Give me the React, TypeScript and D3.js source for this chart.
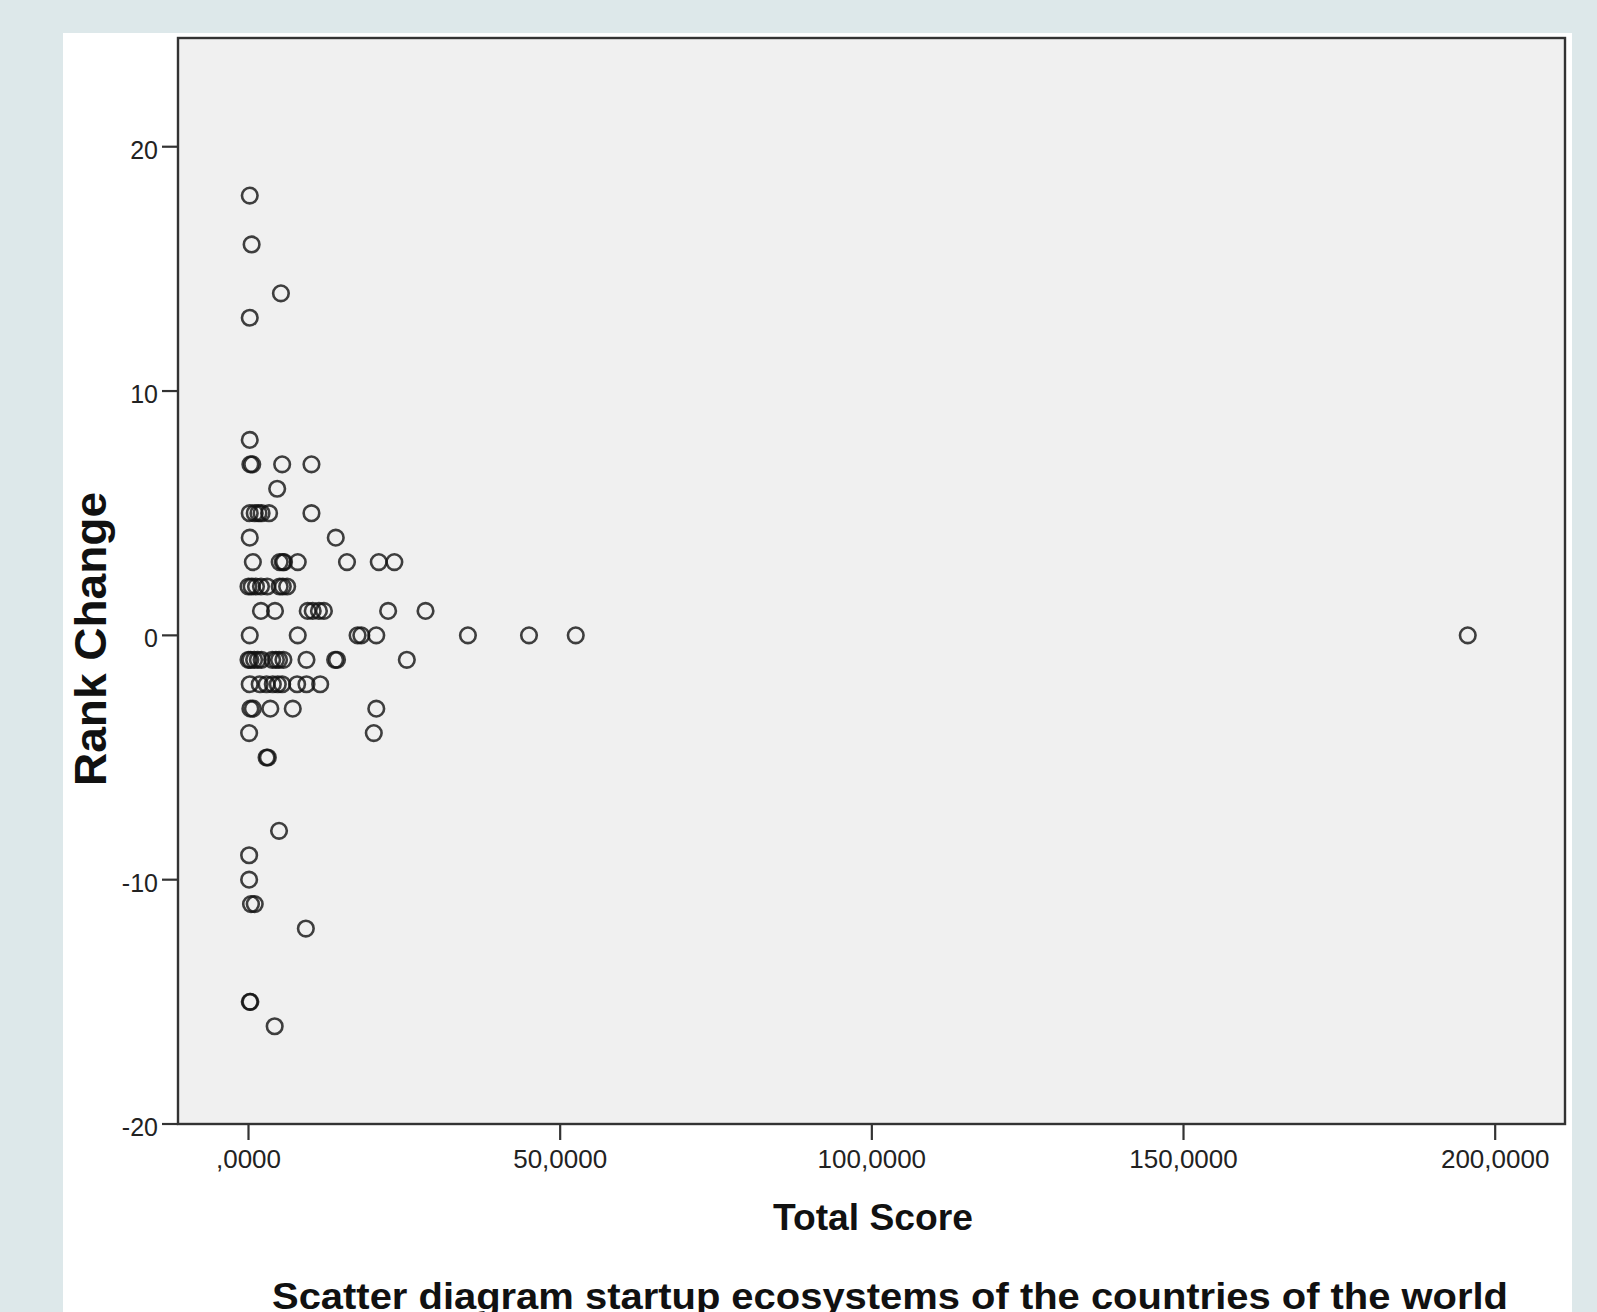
import React from "react";
import * as d3 from "d3";

const totalScore: number[] = [
  0.2, 0.5, 5.2, 0.2, 0.2,
  0.3, 0.6, 5.4, 10.1,
  4.6,
  0.2, 1.0, 1.6, 2.1, 3.3, 10.1,
  0.2, 14.0,
  0.7, 5.0, 5.5, 5.7, 7.9, 15.8, 20.9, 23.4,
  0.0, 0.5, 1.2, 2.0, 3.0, 5.0, 5.5, 6.2,
  2.0, 4.25, 9.5, 10.3, 11.3, 12.1, 22.4, 28.4,
  0.2, 7.9, 17.5, 18.1, 20.5, 35.2, 45.0, 52.5, 195.6,
  0.0, 0.3, 0.9, 1.5, 2.1, 3.8, 4.4, 4.9, 5.6, 9.3, 13.9, 14.2, 25.4,
  0.2, 1.8, 2.9, 3.9, 4.7, 5.4, 7.8, 9.3, 11.5,
  0.3, 0.7, 3.5, 7.1, 20.5,
  0.1, 20.1,
  2.9, 3.1,
  4.9,
  0.1,
  0.1,
  0.4, 1.0,
  9.2,
  0.2, 0.3,
  4.2,
];

const rankChange: number[] = [
  18, 16, 14, 13, 8,
  7, 7, 7, 7,
  6,
  5, 5, 5, 5, 5, 5,
  4, 4,
  3, 3, 3, 3, 3, 3, 3, 3,
  2, 2, 2, 2, 2, 2, 2, 2,
  1, 1, 1, 1, 1, 1, 1, 1,
  0, 0, 0, 0, 0, 0, 0, 0, 0,
  -1, -1, -1, -1, -1, -1, -1, -1, -1, -1, -1, -1, -1,
  -2, -2, -2, -2, -2, -2, -2, -2, -2,
  -3, -3, -3, -3, -3,
  -4, -4,
  -5, -5,
  -8,
  -9,
  -10,
  -11, -11,
  -12,
  -15, -15,
  -16,
];

const xTicks: number[] = [0, 50, 100, 150, 200];
const xTickLabels: string[] = [",0000", "50,0000", "100,0000", "150,0000", "200,0000"];
const yTicks: number[] = [-20, -10, 0, 10, 20];
const yTickLabels: string[] = ["-20", "-10", "0", "10", "20"];

const xTitle = "Total Score";
const yTitle = "Rank Change";
const chartTitle = "Scatter diagram startup ecosystems of the countries of the world";

export default function App() {
  const W = 1597;
  const H = 1312;
  const left = 178, right = 1565, top = 38, bottom = 1124;
  const x = d3.scaleLinear().domain([-11.31, 211.2]).range([left, right]);
  const y = d3.scaleLinear().domain([-20, 24.45]).range([bottom, top]);
  const font = "'Liberation Sans', Arial, Helvetica, sans-serif";
  const axisColor = "#333";

  return (
    <svg
      width={W}
      height={H}
      style={{ position: "absolute", left: 0, top: 0, display: "block" }}
      xmlns="http://www.w3.org/2000/svg"
    >
      <rect x={0} y={0} width={W} height={H} fill="#dde8ea" />
      <rect x={63} y={33} width={1572 - 63} height={H - 33} fill="#ffffff" />
      <rect x={left} y={top} width={right - left} height={bottom - top} fill="#f0f0f0" stroke={axisColor} strokeWidth={2.4} />

      {yTicks.map((t, i) => (
        <g key={"y" + i}>
          <line x1={left - 16} x2={left} y1={y(t)} y2={y(t)} stroke={axisColor} strokeWidth={2.2} />
          <text x={158} y={y(t) + 12} textAnchor="end" fontFamily={font} fontSize={25} fill="#222">
            {yTickLabels[i]}
          </text>
        </g>
      ))}

      {xTicks.map((t, i) => (
        <g key={"x" + i}>
          <line x1={x(t)} x2={x(t)} y1={bottom} y2={bottom + 16} stroke={axisColor} strokeWidth={2.2} />
          <text x={x(t)} y={1168} textAnchor="middle" fontFamily={font} fontSize={26} fill="#222">
            {xTickLabels[i]}
          </text>
        </g>
      ))}

      <g>
        {totalScore.map((v, i) => (
          <circle
            key={"p" + i}
            cx={x(v)}
            cy={y(rankChange[i])}
            r={7.8}
            fill="none"
            stroke="#111"
            strokeOpacity={0.8}
            strokeWidth={2.6}
          />
        ))}
      </g>

      <text x={873} y={1230} textAnchor="middle" fontFamily={font} fontWeight="bold" fontSize={37} fill="#111"
        textLength={200} lengthAdjust="spacingAndGlyphs">
        {xTitle}
      </text>

      <text
        transform={`translate(106, 639) rotate(-90)`}
        textAnchor="middle"
        fontFamily={font}
        fontWeight="bold"
        fontSize={45}
        fill="#111"
        textLength={294}
        lengthAdjust="spacingAndGlyphs"
      >
        {yTitle}
      </text>

      <text x={890} y={1309} textAnchor="middle" fontFamily={font} fontWeight="bold" fontSize={36} fill="#111"
        textLength={1236} lengthAdjust="spacingAndGlyphs">
        {chartTitle}
      </text>
    </svg>
  );
}
